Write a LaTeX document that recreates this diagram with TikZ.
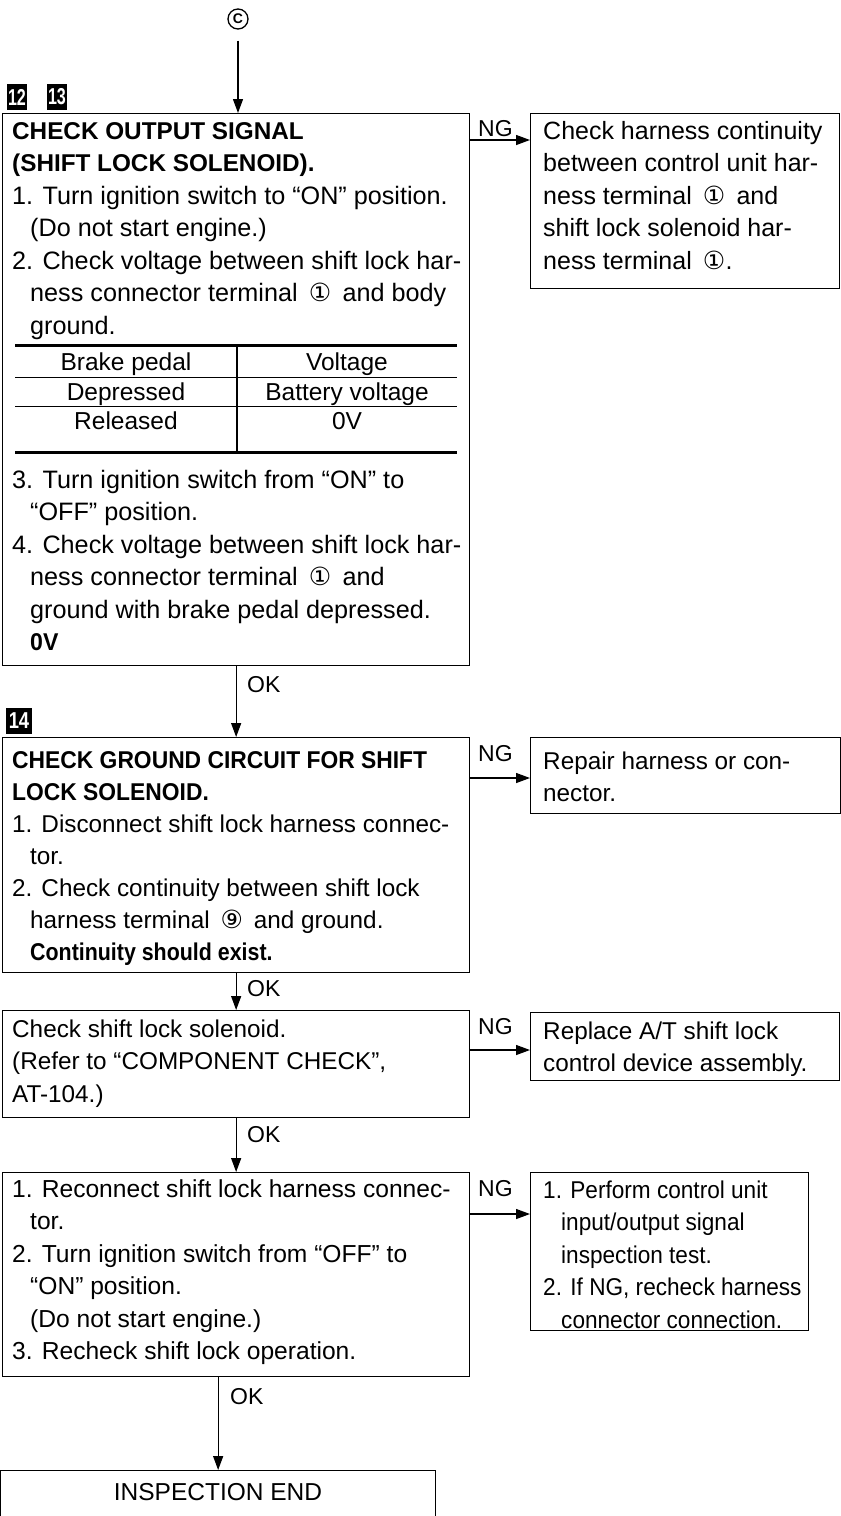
\documentclass[tikz,border=0pt]{standalone}
\usepackage{fontspec}
\setmainfont{Liberation Sans}
\newfontfamily\dejavu{DejaVu Sans}
\usetikzlibrary{arrows.meta}
\newcommand\cnum[1]{\,{\dejavu\fontsize{25}{25}\selectfont #1}\,}
\newcommand\ind{\hspace*{18pt}}
\newcommand\bhead[2]{{\fontsize{24.3}{32.5}\selectfont\bfseries\scalebox{#1}[1]{#2}}}
\newcommand\nar[1]{\scalebox{0.93}[1]{#1}}
\begin{document}
\begin{tikzpicture}[x=1pt,y=-1pt,
  box/.style={draw, line width=1.3pt, anchor=north west, inner sep=0pt, minimum width=467pt},
  txt/.style={anchor=base west, inner sep=0pt, font=\fontsize{24.3}{32.5}\selectfont},
  lab/.style={anchor=base west, inner sep=0pt, font=\fontsize{23}{23}\selectfont},
  cell/.style={anchor=base, inner sep=0pt, font=\fontsize{24.5}{24.5}\selectfont},
  arr/.style={-{Triangle[length=14pt,width=10pt]}, line width=1.3pt},
  badge/.style={fill=black, text=white, inner sep=0pt, minimum width=20pt, minimum height=26pt, font=\bfseries\fontsize{23}{23}\selectfont},
  rule/.style={line width=#1}]
\useasboundingbox (0,0) rectangle (841,1516);

% top connector marker
\node[circle, draw, line width=1.3pt, inner sep=0pt, minimum size=20pt, font=\bfseries\fontsize{14}{14}\selectfont] (c) at (238,19) {C};
\node[badge] (k12) at (17,97) {\scalebox{0.7}[1]{12}};
\node[badge] (k13) at (57,97) {\scalebox{0.7}[1]{13}};

% box 1
\node[box, minimum height=552pt] (b1) at (2,113) {};
\node[txt, font=\fontsize{25.2}{32.5}\selectfont] (t1) at (12,139) {\parbox[t]{455pt}{%
\bhead{1}{CHECK OUTPUT SIGNAL}\\
\bhead{1}{(SHIFT LOCK SOLENOID).}\\
1. Turn ignition switch to ``ON'' position.\\
\ind(Do not start engine.)\\
2. Check voltage between shift lock har-\\
\ind ness connector terminal \cnum{①} and body\\
\ind ground.}};
% table
\coordinate (tl) at (15,345);
\coordinate (tr) at (457,345);
\coordinate (bl) at (15,452);
\coordinate (br) at (457,452);
\draw[rule=3pt] (tl) -- (tr);
\draw[rule=3pt] (bl) -- (br);
\draw[rule=1pt] (15,377) -- (457,377);
\draw[rule=1pt] (15,406) -- (457,406);
\draw[rule=1.3pt] (237,345) -- (237,452);
\node[cell] (h1) at (126,370) {Brake pedal};
\node[cell] (h2) at (347,370) {Voltage};
\node[cell] (r1) at (126,400) {Depressed};
\node[cell] (r2) at (347,400) {Battery voltage};
\node[cell] (r3) at (126,429) {Released};
\node[cell] (r4) at (347,429) {0V};
\node[txt, font=\fontsize{25.2}{32.5}\selectfont] (t1b) at (12,488) {\parbox[t]{455pt}{%
3. Turn ignition switch from ``ON'' to\\
\ind``OFF'' position.\\
4. Check voltage between shift lock har-\\
\ind ness connector terminal \cnum{①} and\\
\ind ground with brake pedal depressed.\\
\ind\bhead{0.95}{0V}}};

% NG box 1
\node[box, minimum width=309pt, minimum height=175pt] (n1) at (530,113) {};
\node[txt, font=\fontsize{25}{32.5}\selectfont] (tn1) at (543,139) {\parbox[t]{290pt}{%
Check harness continuity\\
between control unit har-\\
ness terminal \cnum{①} and\\
shift lock solenoid har-\\
ness terminal \cnum{①}\kern-4pt.}};
\node[lab] (ng1) at (478,136) {NG};
\draw[arr] ([yshift=-27pt]b1.north east) -- ([yshift=-27pt]n1.north west);

% arrow from C
\draw[arr, shorten <=11pt] (c.south) -- (c.south |- b1.north);

% box 2
\node[badge, minimum width=26pt] (k14) at (19,721) {\scalebox{0.8}[1]{14}};
\node[box, minimum height=235pt] (b2) at (2,737) {};
\node[txt] (t2) at (12,768) {\parbox[t]{455pt}{\baselineskip=32pt
\bhead{0.94}{CHECK GROUND CIRCUIT FOR SHIFT}\\
\bhead{0.94}{LOCK SOLENOID.}\\
1. Disconnect shift lock harness connec-\\
\ind tor.\\
2. Check continuity between shift lock\\
\ind harness terminal \cnum{⑨} and ground.\\
\ind\bhead{0.88}{Continuity should exist.}}};
\draw[arr] (b1.south) -- (b2.north);
\node[lab] (ok1) at (247,692) {OK};

% NG box 2
\node[box, minimum width=310pt, minimum height=76pt] (n2) at (530,737) {};
\node[txt] (tn2) at (543,769) {\parbox[t]{290pt}{%
Repair harness or con-\\
nector.}};
\node[lab] (ng2) at (478,761) {NG};
\draw[arr] ([yshift=-41pt]b2.north east) -- ([yshift=-41pt]n2.north west);

% box 3
\node[box, minimum height=107pt] (b3) at (2,1010) {};
\node[txt] (t3) at (12,1037) {\parbox[t]{455pt}{%
Check shift lock solenoid.\\
(Refer to ``COMPONENT CHECK'',\\
AT-104.)}};
\draw[arr] (b2.south) -- (b3.north);
\node[lab] (ok2) at (247,996) {OK};

% NG box 3
\node[box, minimum width=309pt, minimum height=68pt] (n3) at (530,1012) {};
\node[txt] (tn3) at (543,1039) {\parbox[t]{290pt}{%
Replace A/T shift lock\\
control device assembly.}};
\node[lab] (ng3) at (478,1034) {NG};
\draw[arr] ([yshift=-40pt]b3.north east) -- ([yshift=-38pt]n3.north west);

% box 4
\node[box, minimum height=204pt] (b4) at (2,1172) {};
\node[txt, font=\fontsize{24.6}{32.5}\selectfont] (t4) at (12,1197) {\parbox[t]{455pt}{%
1. Reconnect shift lock harness connec-\\
\ind tor.\\
2. Turn ignition switch from ``OFF'' to\\
\ind``ON'' position.\\
\ind(Do not start engine.)\\
3. Recheck shift lock operation.}};
\draw[arr] (b3.south) -- (b4.north);
\node[lab] (ok3) at (247,1142) {OK};

% NG box 4
\node[box, minimum width=278pt, minimum height=158pt] (n4) at (530,1172) {};
\node[txt] (tn4) at (543,1198) {\parbox[t]{270pt}{%
\nar{1. Perform control unit}\\
\ind\nar{input/output signal}\\
\ind\nar{inspection test.}\\
\nar{2. If NG, recheck harness}\\
\ind\nar{connector connection.}}};
\node[lab] (ng4) at (478,1196) {NG};
\draw[arr] ([yshift=-42pt]b4.north east) -- ([yshift=-42pt]n4.north west);

% end box
\node[box, minimum width=435pt, minimum height=48pt] (e) at (0,1470) {};
\node[cell] (te) at (218,1500) {INSPECTION END};
\draw[arr] (b4.south -| e.north) -- (e.north);
\node[lab] (ok4) at (230,1404) {OK};
\end{tikzpicture}
\end{document}
